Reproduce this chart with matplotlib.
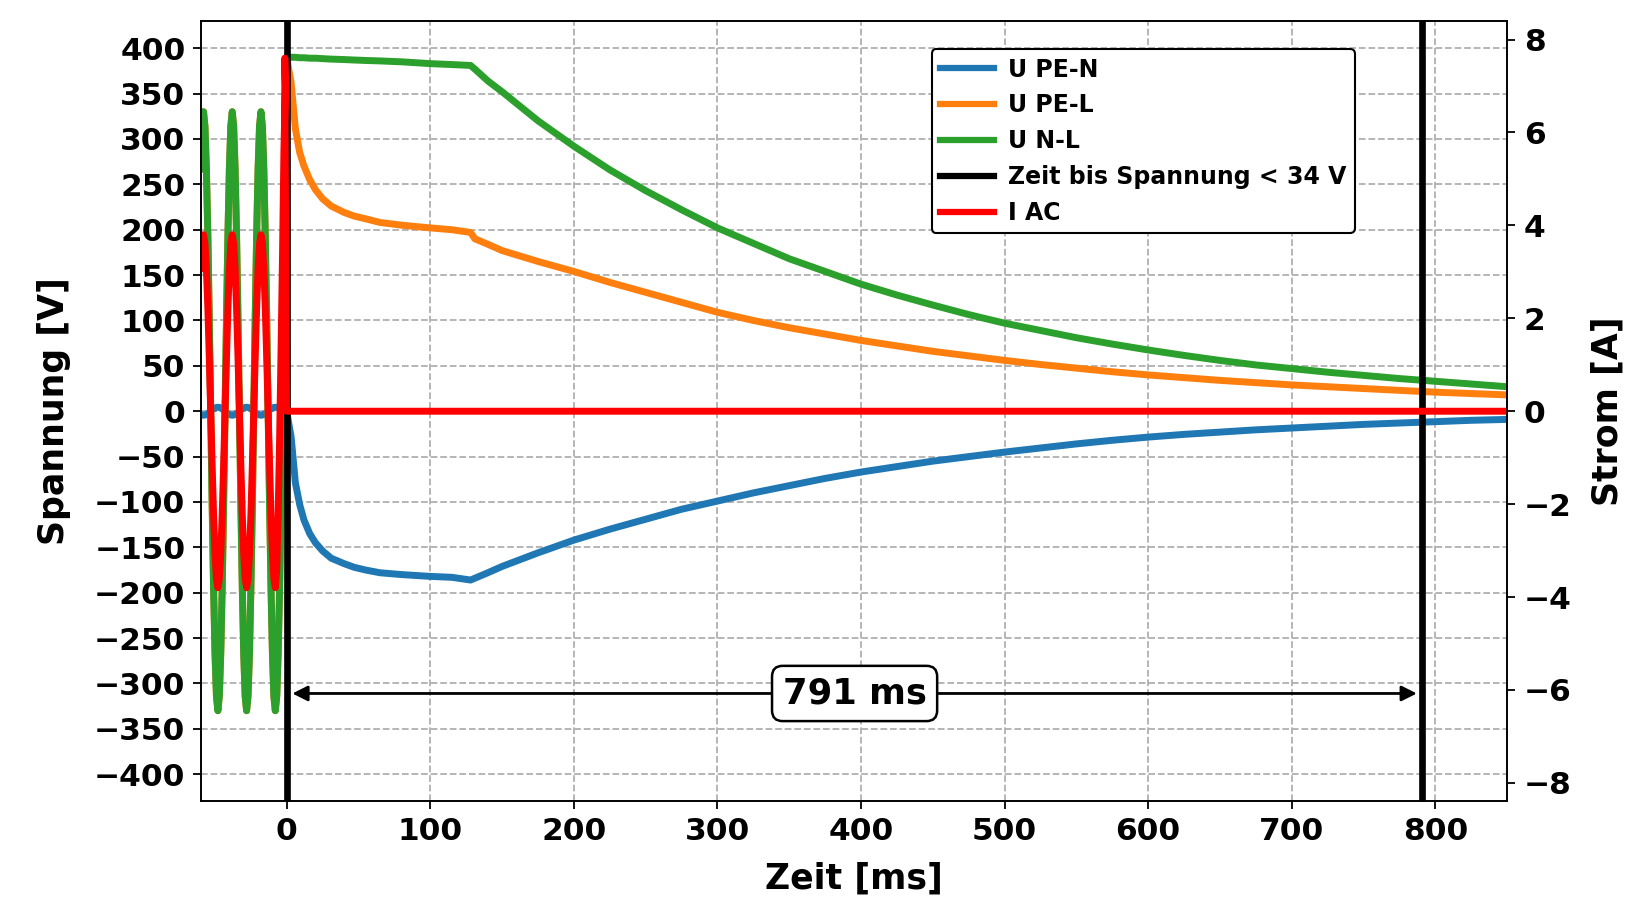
import matplotlib
matplotlib.use("Agg")
import matplotlib.pyplot as plt

plt.rcParams['font.family'] = ['DejaVu Sans']
plt.rcParams['font.weight'] = 'bold'
plt.rcParams['axes.labelweight'] = 'bold'

# ---------------- data ----------------
# oscillating section before the switch-off (t < 0), 1 ms steps from -60 to -1
t_pre = list(range(-60, 0))
u_nl_pre = [267, 314, 330, 314, 267, 194, 102, 0, -102, -194, -267, -314, -330, -314, -267, -194, -102, 0, 102, 194,
            267, 314, 330, 314, 267, 194, 102, 0, -102, -194, -267, -314, -330, -314, -267, -194, -102, 0, 102, 194,
            267, 314, 330, 314, 267, 194, 102, 0, -102, -194, -267, -314, -330, -314, -267, -194, -102, 0, 102, 194]
u_pen_pre = [-3.56, -4.18, -4.4, -4.18, -3.56, -2.59, -1.36, 0, 1.36, 2.59, 3.56, 4.18, 4.4, 4.18, 3.56, 2.59, 1.36, 0, -1.36, -2.59,
             -3.56, -4.18, -4.4, -4.18, -3.56, -2.59, -1.36, 0, 1.36, 2.59, 3.56, 4.18, 4.4, 4.18, 3.56, 2.59, 1.36, 0, -1.36, -2.59,
             -3.56, -4.18, -4.4, -4.18, -3.56, -2.59, -1.36, 0, 1.36, 2.59, 3.56, 4.18, 4.4, 4.18, 3.56, 2.59, 1.36, 0, -1.36, -2.59]
i_ac_pre = [3.07, 3.61, 3.8, 3.61, 3.07, 2.23, 1.17, 0, -1.17, -2.23, -3.07, -3.61, -3.8, -3.61, -3.07, -2.23, -1.17, 0, 1.17, 2.23,
            3.07, 3.61, 3.8, 3.61, 3.07, 2.23, 1.17, 0, -1.17, -2.23, -3.07, -3.61, -3.8, -3.61, -3.07, -2.23, -1.17, 0, 1.17, 2.23,
            3.07, 3.61, 3.8, 3.61, 3.07, 2.23, 1.17, 0, -1.17, -2.23, -3.07, -3.61, -3.8, -3.4, -2.2, -0.6, 1.3, 3.3, 5.6, 7.0]

# current spike and switch-off
t_i_post = [-1.4, -0.2, 850]
i_ac_post = [7.6, 0.0, 0.0]

# decay after switch-off (t >= 0)
t_post = [0, 1, 3, 6, 9, 12, 16, 20, 25, 31, 40, 47, 55, 65, 80, 100, 115, 128, 131,
          140, 150, 175, 200, 225, 250, 275, 300, 325, 350, 375, 400, 425, 450, 475,
          500, 525, 550, 575, 600, 625, 650, 675, 700, 725, 750, 775, 800, 825, 850]
u_pel_post = [390, 380, 362, 311, 285, 270, 255, 244, 234, 226, 219, 215, 212, 208, 205, 202, 200, 197, 190,
              184, 177, 165, 154, 142, 131, 120, 109, 100, 92, 85, 78, 72, 66, 61,
              56, 51.5, 47.5, 43.5, 40, 37, 34, 31.5, 29, 27, 25, 23, 21, 19.5, 18]
u_pen_post = [0, -10, -28, -79, -103, -120, -135, -145, -154, -162, -168, -172, -175, -178, -180, -182, -183, -186, -184,
              -178, -171, -156, -142, -130, -119, -108, -99, -90, -82, -74, -67, -61, -55, -50,
              -45, -40.5, -36, -32, -28.5, -25.5, -23, -20.5, -18.5, -16.5, -14.5, -13, -11.5, -10, -9]
u_nl_post = [390, 390, 390, 390, 389.5, 389.5, 389, 389, 388.5, 388, 387.5, 387, 386.5, 386, 385, 383, 382, 381, 377,
             364, 352, 320, 292, 266, 243, 222, 202, 185, 168, 154, 140, 128, 117, 106.5,
             97, 89, 81, 74, 67.5, 61.5, 56, 51, 47, 43, 39.5, 36, 33, 30, 27]

t_threshold = 791
label_text = "791 ms"

# ---------------- figure ----------------
fig = plt.figure(figsize=(16.3, 8.97), dpi=100)
ax1 = fig.add_axes([0.1231, 0.1065, 0.8015, 0.8701])
ax2 = ax1.twinx()

lw = 5
l1, = ax1.plot(t_pre + t_post, u_pen_pre + u_pen_post, color='#1f77b4', lw=lw, label='U PE-N')
l2, = ax1.plot(t_pre + t_post, u_nl_pre + u_pel_post, color='#ff7f0e', lw=lw, label='U PE-L')
l3, = ax1.plot(t_pre + t_post, u_nl_pre + u_nl_post, color='#2ca02c', lw=lw, label='U N-L')
l4 = ax1.axvline(0, color='black', lw=4.8, label='Zeit bis Spannung < 34 V')
ax1.axvline(t_threshold, color='black', lw=4.8)
l5, = ax2.plot(t_pre + t_i_post, i_ac_pre + i_ac_post, color='red', lw=lw, label='I AC')

ax1.set_xlim(-60, 850)
ax1.set_ylim(-430, 430)
ax2.set_ylim(-8.4, 8.4)
ax1.set_xticks(range(0, 801, 100))
ax1.set_yticks(range(-400, 401, 50))
ax2.set_yticks(range(-8, 9, 2))

ax1.grid(True, linestyle='--', color='#b0b0b0', lw=1.3)
ax1.set_axisbelow(True)

for ax in (ax1, ax2):
    for s in ax.spines.values():
        s.set_linewidth(1.2)
    ax.tick_params(axis='both', labelsize=22.5, length=6, width=1.3)
ax1.tick_params(axis='y', pad=5)
ax1.tick_params(axis='x', pad=5)
ax2.tick_params(axis='y', pad=6)

ax1.set_xlabel('Zeit [ms]', fontsize=25)
ax1.set_ylabel('Spannung [V]', fontsize=25)
ax2.set_ylabel('Strom [A]', fontsize=25)
ax1.xaxis.set_label_coords(0.5, -0.077)
ax1.yaxis.set_label_coords(-0.099, 0.5)
ax2.yaxis.set_label_coords(1.0635, 0.5)

# duration arrow and label
ax1.annotate('', xy=(0, -311), xytext=(t_threshold, -311),
             arrowprops=dict(arrowstyle='<|-|>', color='black', lw=2,
                             mutation_scale=23, shrinkA=4, shrinkB=4))
ax1.text(t_threshold / 2, -311, label_text, fontsize=25.5, fontweight='bold',
         ha='center', va='center',
         bbox=dict(boxstyle='round,pad=0.3', fc='white', ec='black', lw=1.8))

leg = ax2.legend(handles=[l1, l2, l3, l4, l5], loc='upper left',
                 bbox_to_anchor=(0.5596, 0.9637), borderaxespad=0,
                 fontsize=17, handlelength=2.3, handletextpad=0.6,
                 labelspacing=0.5, borderpad=0.35, framealpha=1, fancybox=True)
leg.get_frame().set_edgecolor('black')
leg.get_frame().set_linewidth(1.5)
for h in leg.get_lines():
    h.set_linewidth(4.5)

fig.savefig('out.png', dpi=100)
